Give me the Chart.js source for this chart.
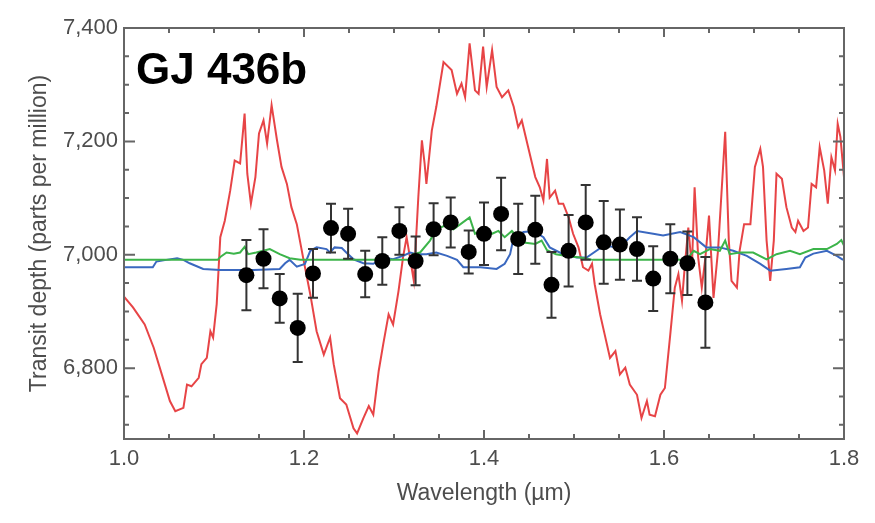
<!DOCTYPE html>
<html>
<head>
<meta charset="utf-8">
<script src="https://cdn.jsdelivr.net/npm/chart.js@4.4.1/dist/chart.umd.min.js"></script>
<style>
  html, body { margin: 0; padding: 0; background: #fff; }
  #wrap { width: 875px; height: 523px; position: relative; }
</style>
</head>
<body>
<div id="wrap"><canvas id="spectrum"></canvas></div>
<script>
// --- measured transit depths (wavelength um, ppm, +/- error ppm) ---
const obsWave  = [1.136, 1.155, 1.173, 1.193, 1.210, 1.230, 1.249, 1.268, 1.287, 1.306, 1.324, 1.344, 1.363, 1.383,
                  1.400, 1.419, 1.438, 1.457, 1.475, 1.494, 1.513, 1.533, 1.551, 1.570, 1.588, 1.607, 1.626, 1.646];
const obsDepth = [6964, 6993, 6923, 6871, 6967, 7047, 7037, 6966, 6989, 7042, 6989, 7045, 7057, 7005,
                  7037, 7072, 7028, 7044, 6947, 7007, 7057, 7022, 7018, 7010, 6958, 6993, 6985, 6916];
const obsErr   = [62, 52, 43, 60, 43, 43, 44, 41, 42, 42, 43, 46, 44, 38,
                  55, 64, 62, 60, 58, 63, 66, 73, 62, 56, 57, 61, 56, 80];

// --- model spectra, [wavelength, depth] ---
const redModel = [[1.000,6926],[1.010,6907],[1.023,6877],[1.033,6836],[1.042,6789],[1.051,6742],[1.057,6724],[1.066,6730],
  [1.070,6771],[1.075,6768],[1.083,6783],[1.086,6807],[1.092,6818],[1.096,6865],[1.099,6854],[1.103,6913],[1.107,7031],
  [1.112,7060],[1.118,7113],[1.123,7166],[1.129,7161],[1.134,7249],[1.137,7143],[1.141,7090],[1.146,7137],[1.150,7214],
  [1.155,7237],[1.159,7196],[1.164,7264],[1.170,7202],[1.175,7155],[1.181,7125],[1.186,7084],[1.192,7054],[1.199,6995],
  [1.207,6930],[1.214,6865],[1.222,6824],[1.229,6854],[1.233,6807],[1.240,6747],[1.247,6736],[1.255,6694],[1.259,6685],
  [1.266,6712],[1.272,6733],[1.277,6718],[1.283,6795],[1.288,6842],[1.294,6895],[1.299,6877],[1.305,6936],[1.310,6995],
  [1.314,7031],[1.322,6954],[1.327,7101],[1.331,7202],[1.334,7161],[1.336,7125],[1.342,7219],[1.347,7261],[1.355,7340],
  [1.364,7326],[1.370,7284],[1.375,7302],[1.379,7278],[1.384,7373],[1.390,7290],[1.394,7284],[1.399,7367],[1.403,7296],
  [1.409,7361],[1.414,7296],[1.420,7278],[1.427,7290],[1.433,7261],[1.438,7225],[1.442,7237],[1.449,7190],[1.457,7137],
  [1.462,7119],[1.466,7096],[1.470,7169],[1.473,7101],[1.479,7113],[1.483,7090],[1.488,7090],[1.494,7066],[1.499,7037],
  [1.505,7013],[1.510,6978],[1.516,6972],[1.520,6984],[1.523,6948],[1.529,6895],[1.534,6860],[1.540,6818],[1.546,6830],
  [1.551,6789],[1.557,6801],[1.562,6771],[1.570,6753],[1.575,6712],[1.581,6742],[1.584,6718],[1.590,6715],[1.596,6753],
  [1.601,6765],[1.607,6860],[1.612,6942],[1.616,6966],[1.620,6919],[1.623,6978],[1.627,7048],[1.631,6978],[1.634,7119],
  [1.638,6995],[1.642,6942],[1.646,6995],[1.650,7069],[1.655,6924],[1.660,7007],[1.668,7217],[1.672,7025],[1.675,6954],
  [1.681,6942],[1.684,7007],[1.689,7054],[1.696,7054],[1.701,7155],[1.707,7187],[1.710,7155],[1.714,7025],[1.718,6954],
  [1.722,7025],[1.725,7143],[1.731,7134],[1.736,7084],[1.742,7048],[1.746,7040],[1.749,7060],[1.755,7042],[1.760,7048],
  [1.764,7125],[1.769,7119],[1.773,7190],[1.778,7149],[1.782,7090],[1.786,7172],[1.790,7149],[1.793,7231],[1.796,7208],
  [1.800,7137]];

const blueModel = [[1.000,6978],[1.032,6978],[1.036,6988],[1.047,6991],[1.059,6994],[1.066,6991],[1.073,6985],[1.088,6975],
  [1.107,6973],[1.144,6973],[1.173,6975],[1.179,6985],[1.184,6991],[1.192,6979],[1.201,6984],[1.207,7007],[1.214,7013],
  [1.225,7010],[1.229,7004],[1.234,7013],[1.242,7012],[1.247,7004],[1.255,6992],[1.266,6985],[1.277,6984],[1.288,6995],
  [1.299,6992],[1.310,6998],[1.318,7004],[1.325,7001],[1.336,7001],[1.347,7004],[1.359,6998],[1.370,6991],[1.377,6978],
  [1.388,6978],[1.396,6978],[1.414,6975],[1.423,6984],[1.429,7001],[1.433,7031],[1.444,7040],[1.455,7042],[1.466,7031],
  [1.473,7013],[1.488,7001],[1.503,6995],[1.514,6995],[1.533,7016],[1.551,7013],[1.562,7031],[1.570,7042],[1.588,7037],
  [1.599,7034],[1.618,7040],[1.633,7031],[1.647,7013],[1.662,7013],[1.677,7007],[1.692,6998],[1.707,6984],[1.718,6972],
  [1.736,6975],[1.751,6978],[1.757,6995],[1.766,7002],[1.781,7007],[1.792,6998],[1.799,6991]];

const greenModel = [[1.000,6991],[1.104,6991],[1.107,6996],[1.114,7004],[1.122,7002],[1.129,7004],[1.134,7014],[1.138,7001],
  [1.147,7004],[1.162,7010],[1.173,7001],[1.184,6994],[1.196,6991],[1.318,6991],[1.321,7001],[1.329,7004],[1.340,7025],
  [1.347,7045],[1.356,7051],[1.366,7045],[1.384,7066],[1.390,7037],[1.396,7042],[1.405,7042],[1.409,7037],[1.416,7042],
  [1.423,7031],[1.431,7042],[1.442,7022],[1.457,7019],[1.464,7025],[1.470,7008],[1.480,7001],[1.492,6998],[1.507,6995],
  [1.521,6991],[1.625,6991],[1.633,7007],[1.640,7001],[1.651,7010],[1.662,7007],[1.668,7025],[1.673,7001],[1.684,7004],
  [1.699,7004],[1.714,6992],[1.725,7001],[1.740,7007],[1.751,7001],[1.766,7010],[1.781,7010],[1.792,7019],[1.797,7026],
  [1.800,7016]];

// axis ticks
const xTicks = [1.0, 1.2, 1.4, 1.6, 1.8];
const yTicks = [6800, 7000, 7200, 7400];
const xMinorStep = 0.05;
const yMinorStep = 50;

const FONT = '"Liberation Sans", Arial, Helvetica, sans-serif';
const GREY = '#4d4d4d';

const toXY = arr => arr.map(p => ({ x: p[0], y: p[1] }));

// error bars are drawn right before the black points
const errorBars = {
  id: 'errorBars',
  beforeDatasetDraw(chart, args) {
    if (args.index !== 0) return;
    const { ctx, scales: { x, y } } = chart;
    ctx.save();
    ctx.strokeStyle = '#333';
    ctx.lineWidth = 2;
    obsWave.forEach((w, i) => {
      const px = x.getPixelForValue(w);
      const top = y.getPixelForValue(obsDepth[i] + obsErr[i]);
      const bot = y.getPixelForValue(obsDepth[i] - obsErr[i]);
      ctx.beginPath();
      ctx.moveTo(px, top); ctx.lineTo(px, bot);
      ctx.moveTo(px - 5, top); ctx.lineTo(px + 5, top);
      ctx.moveTo(px - 5, bot); ctx.lineTo(px + 5, bot);
      ctx.stroke();
    });
    ctx.restore();
  }
};

// box with inward ticks on all four sides + panel label
const frame = {
  id: 'frame',
  afterDraw(chart) {
    const { ctx, chartArea: a, scales: { x, y } } = chart;
    ctx.save();
    ctx.strokeStyle = '#666';
    ctx.lineWidth = 2;
    ctx.strokeRect(a.left, a.top, a.right - a.left, a.bottom - a.top);
    ctx.beginPath();
    const nx = Math.round((x.max - x.min) / xMinorStep);
    for (let i = 0; i <= nx; i++) {
      const v = x.min + i * xMinorStep;
      const len = i % 4 === 0 ? 9 : 5;
      const px = x.getPixelForValue(v);
      ctx.moveTo(px, a.bottom); ctx.lineTo(px, a.bottom - len);
      ctx.moveTo(px, a.top); ctx.lineTo(px, a.top + len);
    }
    for (let v = Math.ceil(y.min / yMinorStep) * yMinorStep; v <= y.max; v += yMinorStep) {
      const len = v % 200 === 0 ? 11 : 5;
      const py = y.getPixelForValue(v);
      ctx.moveTo(a.left, py); ctx.lineTo(a.left + len, py);
      ctx.moveTo(a.right, py); ctx.lineTo(a.right - len, py);
    }
    ctx.stroke();

    ctx.fillStyle = '#000';
    ctx.font = 'bold 44px ' + FONT;
    ctx.textBaseline = 'alphabetic';
    ctx.fillText('GJ 436b', a.left + 12, 84);
    ctx.restore();
  }
};

new Chart(document.getElementById('spectrum'), {
  type: 'scatter',
  data: {
    datasets: [
      {
        label: 'data',
        data: obsWave.map((w, i) => ({ x: w, y: obsDepth[i] })),
        backgroundColor: '#000',
        borderWidth: 0,
        pointRadius: 8,
        showLine: false
      },
      { label: 'green', data: toXY(greenModel), showLine: true, pointRadius: 0, borderColor: '#3cb44a', borderWidth: 2 },
      { label: 'blue', data: toXY(blueModel), showLine: true, pointRadius: 0, borderColor: '#3a68c0', borderWidth: 2 },
      { label: 'red', data: toXY(redModel), showLine: true, pointRadius: 0, borderColor: 'rgba(228,48,50,0.9)', borderWidth: 2 }
    ]
  },
  options: {
    responsive: true,
    maintainAspectRatio: false,
    animation: false,
    layout: { padding: { top: 28, right: 31, left: 0, bottom: 0 } },
    plugins: { legend: { display: false }, tooltip: { enabled: false } },
    scales: {
      x: {
        type: 'linear',
        min: 1.0, max: 1.8,
        grid: { display: false, drawTicks: false },
        border: { display: false },
        afterFit: s => { s.height = 84; },
        afterBuildTicks: s => { s.ticks = xTicks.map(v => ({ value: v })); },
        ticks: { color: GREY, font: { family: FONT, size: 22 }, padding: 7, callback: v => v.toFixed(1) },
        title: { display: true, text: 'Wavelength (µm)', color: GREY, font: { family: FONT, size: 23 }, padding: { bottom: 16 } }
      },
      y: {
        type: 'linear',
        min: 6675, max: 7400,
        grid: { display: false, drawTicks: false },
        border: { display: false },
        afterFit: s => { s.width = 124; },
        afterBuildTicks: s => { s.ticks = yTicks.map(v => ({ value: v })); },
        ticks: { color: GREY, font: { family: FONT, size: 22 }, padding: 6, callback: v => v.toLocaleString('en-US') },
        title: { display: true, text: 'Transit depth (parts per million)', color: GREY, font: { family: FONT, size: 23 }, padding: { top: 26 } }
      }
    }
  },
  plugins: [errorBars, frame]
});
</script>
</body>
</html>
